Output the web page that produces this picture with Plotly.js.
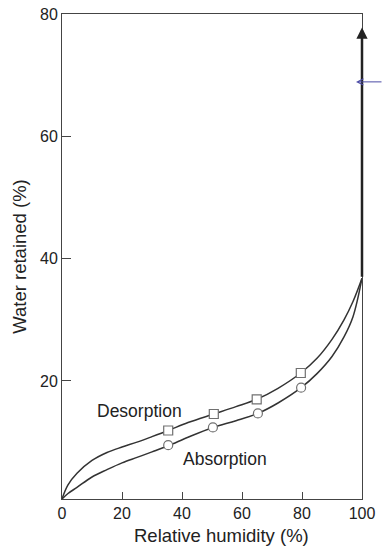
<!DOCTYPE html>
<html>
<head>
<meta charset="utf-8">
<script src="https://cdn.plot.ly/plotly-3.0.1.min.js"></script>
<style>
  html, body { margin: 0; padding: 0; background: #fff; }
  #chart { width: 383px; height: 548px; }
</style>
</head>
<body>
<div id="chart"></div>
<script>
// Curves (relative humidity %, water retained %)
const desorptionRH = [0, 2, 5, 10, 15, 20, 25, 30, 35.4, 42, 50.6, 58, 64.9, 72, 79.6, 85, 90, 94, 97, 100];
const desorptionWater = [0.7, 3.0, 4.9, 7.0, 8.3, 9.2, 10.0, 10.9, 11.9, 13.2, 14.6, 15.8, 17.0, 18.8, 21.3, 23.7, 26.8, 30.0, 33.0, 36.8];

const absorptionRH = [0, 2, 5, 10, 15, 20, 25, 30, 35.4, 42, 50.3, 58, 65.3, 72, 79.7, 85, 90, 94, 97, 100];
const absorptionWater = [0.7, 1.6, 2.6, 4.3, 5.5, 6.6, 7.5, 8.4, 9.4, 10.8, 12.4, 13.5, 14.7, 16.4, 18.9, 21.2, 24.0, 27.2, 30.5, 36.8];

// Measured points (markers)
const desorptionPtsRH = [35.4, 50.6, 64.9, 79.6];
const desorptionPtsWater = [11.9, 14.6, 17.0, 21.3];
const absorptionPtsRH = [35.4, 50.3, 65.3, 79.7];
const absorptionPtsWater = [9.5, 12.4, 14.7, 18.9];

// Vertical arrow at 100 % RH
const arrowRH = 100;
const arrowFromWater = 36.8;
const arrowToWater = 77.8;
const pointerWater = 68.9;

const xTicks = [0, 20, 40, 60, 80, 100];
const yTicks = [20, 40, 60, 80];

const FONT = '"Liberation Sans", Arial, Helvetica, sans-serif';
const curveColor = '#333333';
const markerEdge = '#707070';

const traces = [
  { x: desorptionRH, y: desorptionWater, mode: 'lines', line: { color: curveColor, width: 1.5, shape: 'spline', smoothing: 1 }, hoverinfo: 'skip', showlegend: false },
  { x: absorptionRH, y: absorptionWater, mode: 'lines', line: { color: curveColor, width: 1.5, shape: 'spline', smoothing: 1 }, hoverinfo: 'skip', showlegend: false },
  { x: desorptionPtsRH, y: desorptionPtsWater, mode: 'markers', marker: { symbol: 'square', size: 9, color: '#ffffff', line: { color: markerEdge, width: 1.2 } }, showlegend: false },
  { x: absorptionPtsRH, y: absorptionPtsWater, mode: 'markers', marker: { symbol: 'circle', size: 9, color: '#ffffff', line: { color: markerEdge, width: 1.2 } }, showlegend: false }
];

const layout = {
  width: 383, height: 548,
  margin: { l: 62, r: 21, t: 14, b: 49 },
  paper_bgcolor: '#ffffff', plot_bgcolor: '#ffffff',
  font: { family: FONT, color: '#222222', size: 16 },
  showlegend: false,
  xaxis: {
    range: [0, 100], tickvals: xTicks, ticktext: xTicks.map(String),
    ticks: 'inside', ticklen: 7, tickcolor: '#444', tickwidth: 1,
    showline: true, linecolor: '#444', linewidth: 1, mirror: true,
    showgrid: false, zeroline: false,
    tickfont: { size: 16 }
  },
  yaxis: {
    range: [0.7, 80], tickvals: yTicks, ticktext: yTicks.map(String),
    ticks: 'inside', ticklen: 9, tickcolor: '#444', tickwidth: 1,
    showline: true, linecolor: '#444', linewidth: 1, mirror: true,
    showgrid: false, zeroline: false,
    tickfont: { size: 16 },
    title: { text: 'Water retained (%)', font: { size: 18.5 }, standoff: 8 }
  },
  annotations: [
    { x: 0.53, y: -0.049, xref: 'paper', yref: 'paper', text: 'Relative humidity (%)', showarrow: false,
      font: { size: 18.5 }, xanchor: 'center', yanchor: 'top' },
    { x: 25.9, y: 15.1, xref: 'x', yref: 'y', text: 'Desorption', showarrow: false, font: { size: 17.5 }, xanchor: 'center', yanchor: 'middle' },
    { x: 54.3, y: 7.3, xref: 'x', yref: 'y', text: 'Absorption', showarrow: false, font: { size: 17.5 }, xanchor: 'center', yanchor: 'middle' },
    { x: arrowRH, y: arrowToWater, xref: 'x', yref: 'y', ax: arrowRH, ay: arrowFromWater, axref: 'x', ayref: 'y',
      text: '', showarrow: true, arrowhead: 2, arrowsize: 0.9, arrowwidth: 2.5, arrowcolor: '#222222' },
    { x: 98, y: pointerWater, xref: 'x', yref: 'y', ax: 30, ay: 0,
      text: '', showarrow: true, arrowhead: 5, arrowsize: 1.2, arrowwidth: 1, arrowcolor: '#4b4ba6' }
  ]
};

Plotly.newPlot('chart', traces, layout, { staticPlot: true, displayModeBar: false });
</script>
</body>
</html>
